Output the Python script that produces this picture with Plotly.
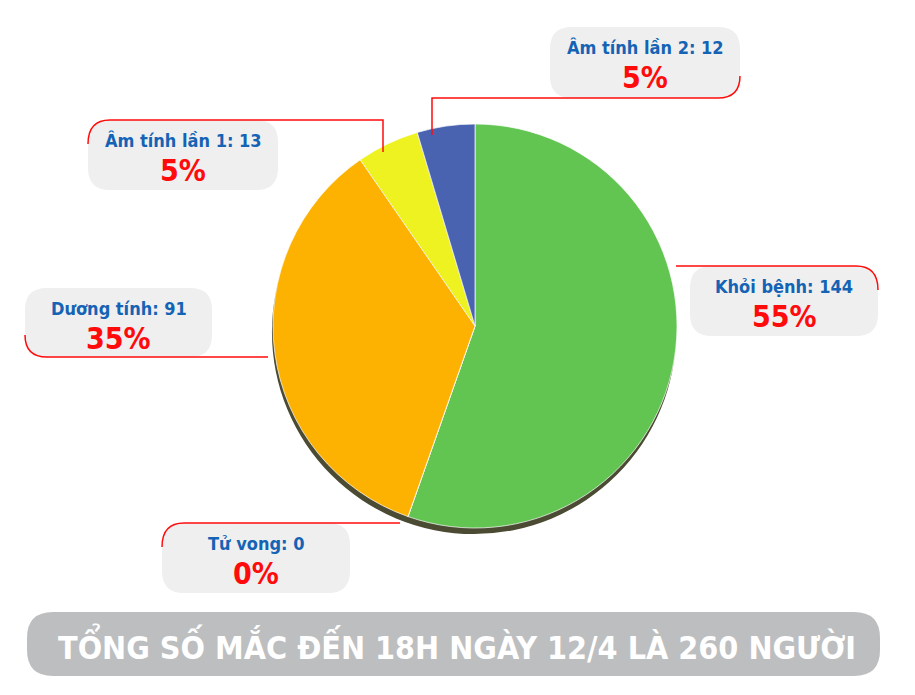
import plotly.graph_objects as go

# data
labels = ['Khỏi bệnh', 'Tử vong', 'Dương tính', 'Âm tính lần 1', 'Âm tính lần 2']
values = [144, 0, 91, 13, 12]
colors = ['#62c451', '#9e9e9e', '#fdb201', '#eef221', '#4a63b0']
total_label = 'TỔNG SỐ MẮC ĐẾN 18H NGÀY 12/4 LÀ 260 NGƯỜI'

W, H = 915, 695
OX, OY = 8, 8  # page body margin
FONT = 'DejaVu Sans Condensed, DejaVu Sans, sans-serif'
BLUE = '#1463b4'
RED = '#ff0b0b'

# callout boxes: (x0, y0, x1, y1) in px, and red leader path
boxes = {
    'Âm tính lần 2': (550, 27, 740, 98),
    'Khỏi bệnh': (690, 266, 878, 336),
    'Âm tính lần 1': (88, 120, 278, 190),
    'Dương tính': (25, 288, 212, 357),
    'Tử vong': (162, 523, 350, 593),
}
leaders = [
    'M 432,135 L 432,98 L 718,98 Q 740,98 740,76',
    'M 676,266 L 856,266 Q 878,266 878,290',
    'M 383,152 L 383,120 L 110,120 Q 88,120 88,144',
    'M 268,357 L 47,357 Q 25,357 25,335',
    'M 400,523 L 184,523 Q 162,523 162,547',
]


def rrect(x0, y0, x1, y1, r=22):
    return (f'M {x0+r},{y0} L {x1-r},{y0} Q {x1},{y0} {x1},{y0+r} '
            f'L {x1},{y1-r} Q {x1},{y1} {x1-r},{y1} L {x0+r},{y1} '
            f'Q {x0},{y1} {x0},{y1-r} L {x0},{y0+r} Q {x0},{y0} {x0+r},{y0} Z')


def font(size, color):
    return dict(family=FONT, size=size, color=color, weight='bold')


cx, cy, rad = 475, 326, 202
px = lambda v: (v - OX) / W
py = lambda v: 1 - (v - OY) / H

fig = go.Figure()

# shadow under the pie
fig.add_trace(go.Pie(values=[sum(values)], marker=dict(colors=['#4b4a33']),
                     textinfo='none', hoverinfo='skip', showlegend=False,
                     domain=dict(x=[px(cx - rad - 1), px(cx + rad - 1)],
                                 y=[py(cy + rad + 6), py(cy - rad + 6)])))

fig.add_trace(go.Pie(labels=labels, values=values, sort=False, direction='clockwise',
                     rotation=0, marker=dict(colors=colors, line=dict(color='rgba(255,255,255,0.7)', width=1)),
                     textinfo='none', showlegend=False,
                     domain=dict(x=[px(cx - rad), px(cx + rad)],
                                 y=[py(cy + rad), py(cy - rad)])))

shapes = []
annotations = []
tot = sum(values)
for lab, val in zip(labels, values):
    x0, y0, x1, y1 = boxes[lab]
    shapes.append(dict(type='path', path=rrect(x0, y0, x1, y1), xref='x', yref='y',
                       fillcolor='#efefef', line=dict(width=0), layer='below'))
    xm = (x0 + x1) / 2
    annotations.append(dict(x=xm, y=y0 + 20, xref='x', yref='y', text=f'{lab}: {val}',
                            showarrow=False, font=font(18, BLUE)))
    annotations.append(dict(x=xm, y=y0 + 50, xref='x', yref='y', text=f'{round(val / tot * 100)}%',
                            showarrow=False, font=font(30, RED)))

for p in leaders:
    shapes.append(dict(type='path', path=p, xref='x', yref='y', line=dict(color=RED, width=1.5)))

# bottom banner
shapes.append(dict(type='path', path=rrect(27, 612, 880, 676, 26), xref='x', yref='y',
                   fillcolor='#bdbec0', line=dict(width=0), layer='below'))
annotations.append(dict(x=457, y=645, xref='x', yref='y', text=total_label,
                        showarrow=False, font=font(32, 'white')))

fig.update_layout(
    width=W, height=H, margin=dict(l=0, r=0, t=0, b=0),
    paper_bgcolor='white', plot_bgcolor='rgba(0,0,0,0)',
    xaxis=dict(range=[OX, W + OX], visible=False, fixedrange=True),
    yaxis=dict(range=[H + OY, OY], visible=False, fixedrange=True),
    shapes=shapes, annotations=annotations,
)

fig.write_html('out.html')
